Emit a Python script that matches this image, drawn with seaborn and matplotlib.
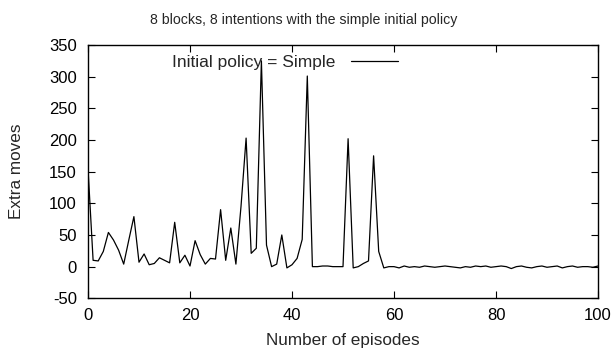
import numpy as np
import pandas as pd
import matplotlib
matplotlib.use("Agg")
import matplotlib.pyplot as plt
import seaborn as sns

title = "8 blocks, 8 intentions with the simple initial policy"
x_label = "Number of episodes"
y_label = "Extra moves"
series_label = "Initial policy = Simple"

episodes = list(range(0, 101))
extra_moves = [
    155, 10, 9, 24, 54, 42, 26, 4, 42, 79,
    7, 20, 3, 5, 14, 10, 6, 70, 6, 18,
    1, 41, 19, 4, 13, 12, 90, 10, 61, 4,
    95, 203, 21, 29, 325, 34, 0, 4, 50, -2,
    3, 13, 43, 301, 0, 0, 1, 1, 0, 0,
    0, 202, -2, 0, 5, 9, 175, 24, -2, 0,
    0, -2, 1, -1, 0, -1, 1, 0, -1, 0,
    1, 0, -1, -2, 0, -1, 1, 0, 1, -1,
    0, 1, 0, -3, 0, 1, -1, -2, 0, 1,
    -1, 0, 1, -2, 0, 1, -1, 0, 0, -1,
    1,
]
x_ticks = [0, 20, 40, 60, 80, 100]
y_ticks = [-50, 0, 50, 100, 150, 200, 250, 300, 350]

sns.set_style("ticks")
plt.rcParams["font.family"] = ["Liberation Sans", "DejaVu Sans"]
plt.rcParams["font.size"] = 12
plt.rcParams["axes.unicode_minus"] = False

df = pd.DataFrame({"episode": episodes, "moves": extra_moves})

fig = plt.figure(figsize=(6.15, 3.54), dpi=100)
ax = fig.add_axes([88 / 615, 1 - 298.3 / 354, 510 / 615, (298.3 - 45) / 354])

sns.lineplot(data=df, x="episode", y="moves", color="black", linewidth=0.9,
             ax=ax, label=series_label)

ax.set_xlim(0, 100)
ax.set_ylim(-50, 350)
ax.set_xticks(x_ticks)
ax.set_yticks(y_ticks)
ax.tick_params(direction="in", top=True, right=True, length=5, width=0.8,
               labelsize=12, colors="black")
ax.tick_params(axis="y", pad=8)
ax.tick_params(axis="x", pad=7)
for s in ax.spines.values():
    s.set_linewidth(1.0)
    s.set_color("black")
    s.set_visible(True)

ax.set_xlabel(x_label, fontsize=12.3, labelpad=7)
ax.set_ylabel(y_label, fontsize=12.3, labelpad=18)
fig.text(304 / 615, 1 - 20 / 354, title, ha="center", va="center",
         fontsize=10.2)

leg = ax.legend(loc="center right",
                bbox_to_anchor=((398 - 88) / 510, (298.3 - 62) / 253.3),
                frameon=False, markerfirst=False, handlelength=2.7,
                handletextpad=0.9, borderaxespad=0, borderpad=0, fontsize=12.5)

fig.savefig("out.png", dpi=100)
